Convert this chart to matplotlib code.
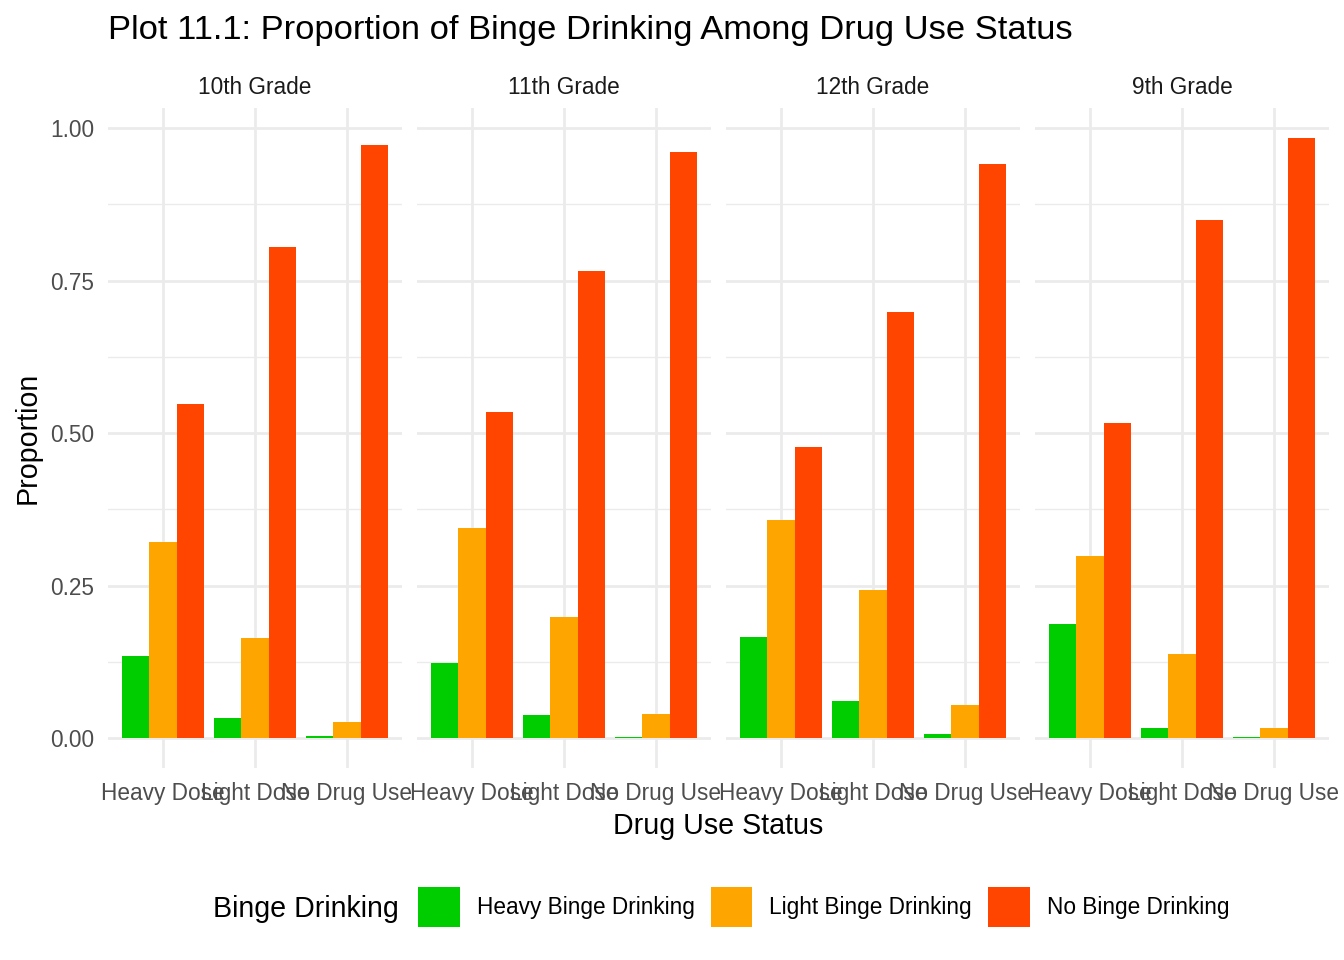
import numpy as np
import matplotlib.pyplot as plt
from matplotlib.patches import Patch

plt.rcParams['font.family'] = ['Liberation Sans', 'DejaVu Sans']

grades = ['10th Grade', '11th Grade', '12th Grade', '9th Grade']
drug_status = ['Heavy Dose', 'Light Dose', 'No Drug Use']
binge_levels = ['Heavy Binge Drinking', 'Light Binge Drinking', 'No Binge Drinking']
colors = ['#00CD00', '#FFA500', '#FF4500']

# proportions per grade: rows = drug status, cols = binge level
heavy_binge = {
    '10th Grade': [0.134, 0.033, 0.003],
    '11th Grade': [0.123, 0.038, 0.002],
    '12th Grade': [0.165, 0.061, 0.007],
    '9th Grade': [0.187, 0.016, 0.002],
}
light_binge = {
    '10th Grade': [0.321, 0.164, 0.026],
    '11th Grade': [0.345, 0.198, 0.039],
    '12th Grade': [0.358, 0.242, 0.054],
    '9th Grade': [0.298, 0.137, 0.016],
}
no_binge = {
    '10th Grade': [0.547, 0.805, 0.972],
    '11th Grade': [0.534, 0.766, 0.961],
    '12th Grade': [0.478, 0.699, 0.941],
    '9th Grade': [0.517, 0.849, 0.984],
}
series = [heavy_binge, light_binge, no_binge]

W, H = 1344, 960
fig = plt.figure(figsize=(W / 100, H / 100), dpi=100)

ymax = max(max(v) for s in series for v in s.values())
pad = ymax * 0.05

panel_left = [108, 417, 726, 1035]
panel_w = 294
top, bottom = 108, 768

small = 16.3
x = np.arange(len(drug_status))
bw = 0.3
for i, g in enumerate(grades):
    ax = fig.add_axes([panel_left[i] / W, 1 - bottom / H, panel_w / W, (bottom - top) / H])
    for j, s in enumerate(series):
        ax.bar(x + (j - 1) * bw, s[g], width=bw, color=colors[j], zorder=3)
    ax.set_xlim(-0.6, 2.6)
    ax.set_ylim(-pad, ymax + pad)
    ax.set_xticks(x)
    ax.set_xticklabels(drug_status)
    ax.set_yticks([0, 0.25, 0.5, 0.75, 1.0])
    ax.set_yticks([0.125, 0.375, 0.625, 0.875], minor=True)
    ax.grid(True, which='major', color='#EBEBEB', linewidth=2.0, zorder=0)
    ax.grid(True, which='minor', axis='y', color='#EBEBEB', linewidth=1.0, zorder=0)
    ax.tick_params(axis='both', which='both', length=0, labelsize=small, colors='#4D4D4D', pad=10)
    if i == 0:
        ax.set_yticklabels(['0.00', '0.25', '0.50', '0.75', '1.00'])
    else:
        ax.set_yticklabels([])
    for sp in ax.spines.values():
        sp.set_visible(False)
    ax.set_title(g, fontsize=small, color='#1A1A1A', pad=10)

fig.text(108 / W, 1 - 31 / H, 'Plot 11.1: Proportion of Binge Drinking Among Drug Use Status',
         fontsize=24.8, ha='left', va='center', color='black')
fig.text(28 / W, 1 - 438 / H, 'Proportion', fontsize=20.6, rotation=90, ha='center', va='center')
fig.text(718 / W, 1 - 826 / H, 'Drug Use Status', fontsize=20.6, ha='center', va='center')

fig.text(213 / W, 1 - 909 / H, 'Binge Drinking', fontsize=20.6, ha='left', va='center')
handles = [Patch(facecolor=c, edgecolor='none') for c in colors]
fig.legend(handles, binge_levels, loc='center left', bbox_to_anchor=(418 / W, 1 - 907 / H),
           ncol=3, frameon=False, fontsize=small, handlelength=1.85, handleheight=2.35,
           handletextpad=0.75, columnspacing=0.7, borderpad=0, borderaxespad=0)

plt.savefig('out.png', dpi=100)
